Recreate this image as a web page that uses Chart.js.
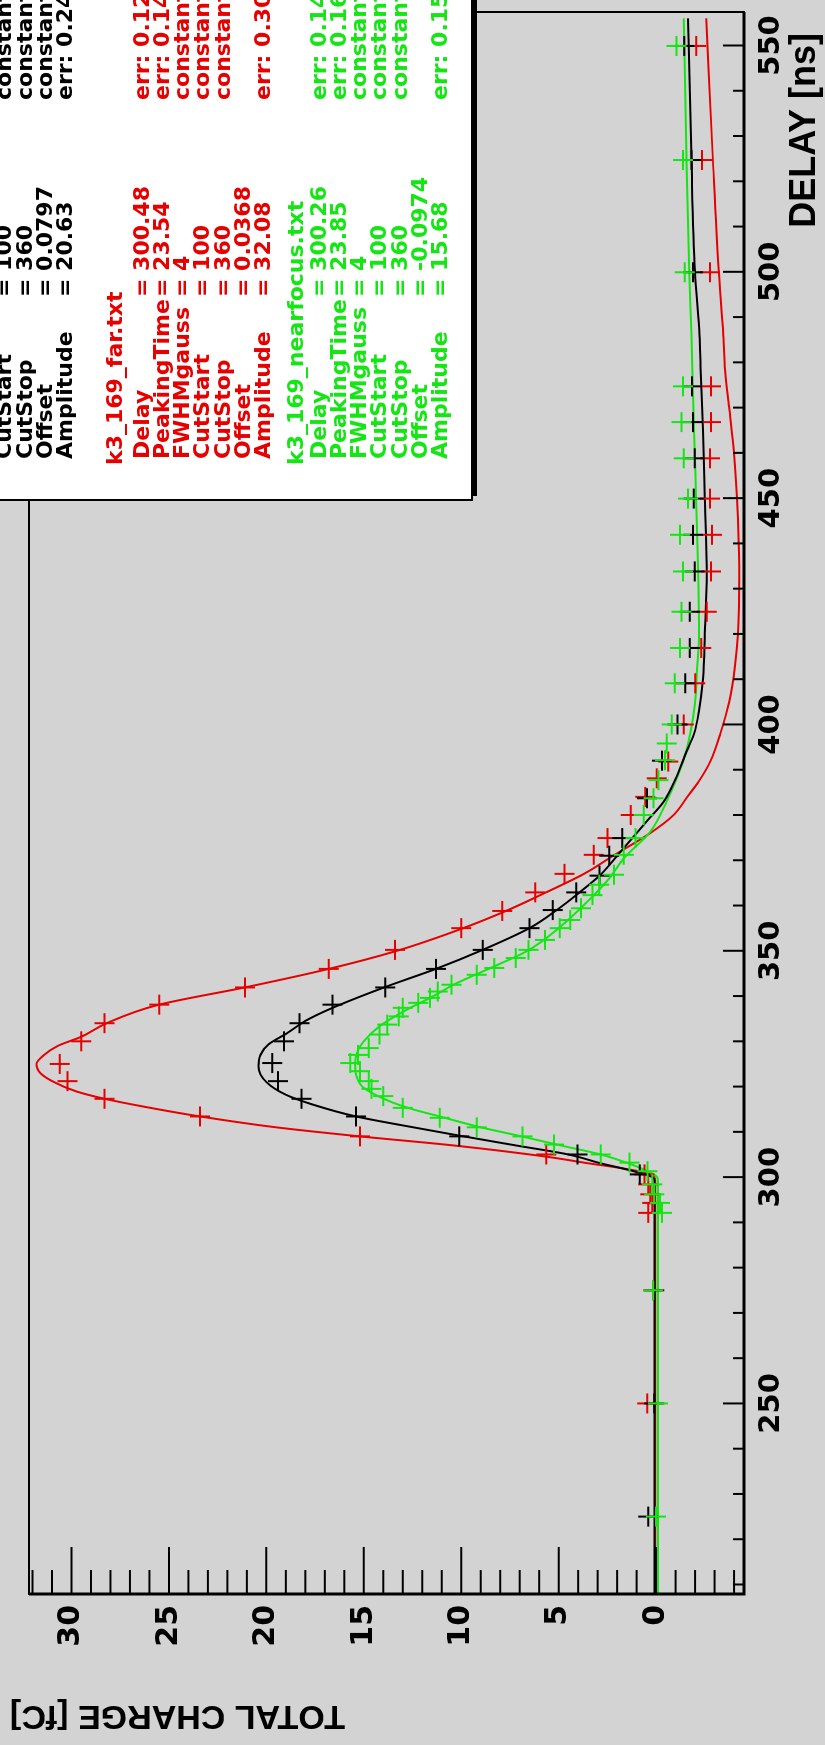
<!DOCTYPE html>
<html lang="en">
<head>
<meta charset="UTF-8">
<title>Total charge vs delay</title>
<script src="https://cdn.jsdelivr.net/npm/chart.js"></script>
<style>
  html, body { margin: 0; padding: 0; background: #d3d3d3; overflow: hidden; }
  body { width: 825px; height: 1745px; position: relative; }
  /* the plot is drawn landscape and turned a quarter turn */
  #wrap {
    position: absolute; left: 0; top: 0;
    width: 1745px; height: 825px;
    transform-origin: 0 0;
    transform: translate(0, 1745px) rotate(-90deg);
  }
</style>
</head>
<body>
<div id="wrap"><canvas id="grafico" width="1745" height="825"></canvas></div>
<script>
// axis labels
const delayTicks = [250, 300, 350, 400, 450, 500, 550];
const chargeTicks = [0, 5, 10, 15, 20, 25, 30];

// measured points, black run
const blackDelay = [225, 250, 275, 300.6, 305, 309, 313.4, 317.3, 321.2, 325.2, 330, 334, 338.1, 341.9, 346, 350.2, 355, 359, 362.9, 366.6, 371, 374.9, 383.7, 392, 400, 409.1, 416.9, 424.9, 433.8, 441.9, 449.9, 458.8, 466.8, 474.7, 499.9, 524.7, 549.9];
const blackCharge = [0.4, 0.1, 0.1, 0.84, 4.04, 10.1, 15.4, 18.2, 19.4, 19.7, 19.1, 18.3, 16.6, 13.9, 11.3, 8.9, 6.5, 5.3, 4.1, 2.9, 2.4, 1.74, 0.47, -0.3, -1.1, -1.5, -1.72, -1.72, -1.98, -1.89, -1.93, -1.98, -1.89, -1.84, -1.89, -1.81, -1.45];

// measured points, k3_169_far.txt
const farDelay = [250, 275, 292.1, 294.3, 296.2, 298.4, 300.6, 305, 309, 313.4, 317.3, 321.2, 325, 330, 334, 338.1, 341.9, 346, 350.2, 355, 358.8, 362.9, 367, 371.2, 374.9, 380, 384, 388.1, 391.8, 400, 409.1, 416.9, 424.9, 433.8, 441.9, 449.9, 458.8, 466.8, 474.7, 499.9, 524.7, 549.9];
const farCharge = [0.45, 0.15, 0.4, 0.2, 0.3, 0.4, 0.6, 5.64, 15.2, 23.4, 28.3, 30.2, 30.6, 29.5, 28.3, 25.5, 21.1, 16.8, 13.4, 10.0, 7.9, 6.2, 4.7, 3.2, 2.5, 1.3, 0.56, -0.03, -0.62, -1.42, -2.01, -2.32, -2.6, -2.82, -2.87, -2.77, -2.77, -2.82, -2.82, -2.77, -2.35, -2.06];

// measured points, k3_169_nearfocus.txt
const nearDelay = [225, 250, 275, 292.1, 294.3, 296.2, 298.4, 301.3, 303.2, 305, 307.2, 309, 311, 313.1, 315.3, 317.9, 319.5, 321.2, 323.4, 325.2, 327, 328.5, 331.5, 333.7, 335.5, 337.4, 338.5, 339.6, 341, 342.5, 344.7, 346.2, 348.4, 350.2, 352.4, 355, 356.8, 359.4, 362.3, 364.6, 366.8, 371.2, 374.9, 380, 383.7, 387.7, 392.1, 395.8, 400, 409.1, 416.9, 424.9, 433.8, 441.9, 449.9, 458.8, 466.8, 474.7, 499.9, 524.7, 549.9];
const nearCharge = [0.0, -0.1, 0.15, -0.3, -0.2, 0.1, 0.2, 0.44, 1.37, 2.84, 5.24, 6.85, 9.2, 11.1, 13.0, 14.0, 14.6, 14.75, 15.2, 15.7, 15.3, 14.75, 14.2, 13.8, 13.2, 13.0, 12.2, 11.6, 11.2, 10.5, 9.2, 8.3, 7.2, 6.55, 5.7, 4.95, 4.4, 3.85, 3.26, 2.92, 2.16, 1.66, 1.06, 0.64, 0.14, -0.12, -0.46, -0.54, -0.8, -0.96, -1.22, -1.3, -1.38, -1.22, -1.64, -1.42, -1.3, -1.38, -1.47, -1.38, -1.05];

// fitted shapes
const fitBlackDelay = [208, 299, 300, 301, 302, 303, 305, 307, 309.4, 311.5, 313.4, 316, 318.2, 321, 324.5, 327, 329.3, 331.9, 334.5, 337.4, 342, 346, 350.2, 355, 359, 363, 366.6, 371, 375, 379, 383, 388, 394, 398, 403, 410, 420, 435, 450, 465, 479, 486, 500, 525, 550, 556];
const fitBlackCharge = [0.08, 0.08, 0.2, 0.9, 1.8, 2.8, 4.5, 7.2, 10.4, 13.1, 15.4, 17.6, 19.0, 20.0, 20.4, 20.3, 19.9, 18.9, 18.0, 16.6, 13.9, 11.3, 8.9, 6.5, 5.1, 3.9, 2.9, 2.0, 1.2, 0.4, -0.4, -1.0, -1.56, -1.95, -2.2, -2.4, -2.5, -2.6, -2.5, -2.4, -2.28, -2.23, -2.0, -1.81, -1.67, -1.64];

const fitFarDelay = [208, 299, 300, 301, 302, 303, 304.5, 307, 309, 311, 313.4, 315.5, 317.3, 319, 321, 323, 325, 327, 329, 331, 334, 338, 342, 346, 350, 355, 359, 363, 367, 371, 376, 380, 384, 387.5, 392, 398, 405, 413, 420, 435, 450, 460, 470, 479, 486, 501, 526, 556];
const fitFarCharge = [0.04, 0.04, 0.1, 0.6, 1.8, 3.4, 5.6, 10.4, 15.2, 19.5, 23.4, 26.2, 28.3, 29.8, 30.9, 31.6, 31.8, 31.4, 30.7, 29.5, 28.2, 25.6, 21.0, 16.8, 13.3, 9.9, 7.6, 5.6, 3.7, 2.2, 0.3, -0.9, -1.6, -2.2, -2.8, -3.3, -3.75, -4.05, -4.2, -4.26, -4.15, -4.0, -3.75, -3.52, -3.45, -3.2, -2.9, -2.57];

const fitNearDelay = [208, 299, 300, 301.3, 303, 305, 307, 309, 311, 313.4, 315, 316.8, 319.7, 322, 325, 328, 330, 333.3, 336.5, 340.3, 342.5, 346, 350, 355, 362, 366, 370.4, 376.3, 383, 391.8, 398, 404.3, 412, 420, 435, 450, 465, 479, 486, 500, 525, 556];
const fitNearCharge = [-0.1, -0.1, -0.05, 0.44, 1.4, 2.84, 4.9, 6.9, 9.0, 11.1, 12.5, 13.7, 15.0, 15.35, 15.45, 15.3, 15.0, 14.2, 13.0, 11.3, 10.4, 8.6, 6.6, 5.0, 3.26, 2.4, 1.66, 0.3, -0.54, -1.38, -1.75, -1.98, -2.1, -2.2, -2.15, -2.05, -1.95, -1.86, -1.81, -1.7, -1.56, -1.42];

// fit parameter box
const paramNames = ['Delay', 'PeakingTime', 'FWHMgauss', 'CutStart', 'CutStop', 'Offset', 'Amplitude'];
const blackValues = [null, null, '4', '100', '360', '0.0797', '20.63'];
const blackErrors = [null, null, 'constant', 'constant', 'constant', 'constant', 'err: 0.24'];
const farValues = ['300.48', '23.54', '4', '100', '360', '0.0368', '32.08'];
const farErrors = ['err: 0.12', 'err: 0.14', 'constant', 'constant', 'constant', '', 'err: 0.30'];
const nearValues = ['300.26', '23.85', '4', '100', '360', '-0.0974', '15.68'];
const nearErrors = ['err: 0.14', 'err: 0.16', 'constant', 'constant', 'constant', '', 'err: 0.15'];

const RED = '#e60000';
const GREEN = '#14e614';
const BLACK = '#000000';

function pairs(xs, ys) {
  return xs.map((x, i) => ({ x: x, y: ys[i] }));
}

function pontos(label, xs, ys, cor) {
  return {
    label: label, data: pairs(xs, ys), showLine: false,
    pointStyle: 'cross', pointRadius: 10, pointBorderWidth: 2,
    borderColor: cor, backgroundColor: cor
  };
}

function curva(label, xs, ys, cor) {
  return {
    label: label, data: pairs(xs, ys), showLine: true,
    pointRadius: 0, borderWidth: 2, borderColor: cor,
    cubicInterpolationMode: 'monotone'
  };
}

// ROOT style frame: inward ticks, axis titles, parameter box
const rootFrame = {
  id: 'rootFrame',
  afterDatasetsDraw(chart) {
    const ctx = chart.ctx;
    const a = chart.chartArea;
    const sx = chart.scales.x;
    const sy = chart.scales.y;
    ctx.save();
    ctx.strokeStyle = '#000';

    ctx.lineWidth = 2;
    for (let v = 210; v <= 550; v += 10) {
      const px = sx.getPixelForValue(v);
      const len = v % 50 === 0 ? 21 : 11;
      ctx.beginPath();
      ctx.moveTo(px, a.bottom);
      ctx.lineTo(px, a.bottom - len);
      ctx.stroke();
    }
    for (let v = -4; v <= 32; v += 1) {
      const py = sy.getPixelForValue(v);
      const len = v % 5 === 0 ? 47 : 24;
      ctx.beginPath();
      ctx.moveTo(a.left, py);
      ctx.lineTo(a.left + len, py);
      ctx.stroke();
    }

    ctx.lineWidth = 2;
    ctx.strokeRect(a.left, a.top, a.right - a.left, a.bottom - a.top);
    ctx.lineWidth = 3;
    ctx.beginPath();
    ctx.moveTo(a.left, a.top);
    ctx.lineTo(a.left, a.bottom);
    ctx.lineTo(a.right, a.bottom);
    ctx.stroke();

    ctx.fillStyle = '#000';
    ctx.font = 'bold 36px "Liberation Sans"';
    ctx.textAlign = 'right';
    ctx.textBaseline = 'middle';
    ctx.fillText('DELAY [ns]', 1712, 805);

    ctx.save();
    ctx.translate(30, 10);
    ctx.rotate(-Math.PI / 2);
    ctx.font = 'bold 34px "Liberation Sans"';
    ctx.fillText('TOTAL CHARGE [fC]', 0, 0);
    ctx.restore();
    ctx.restore();
  },
  afterDraw(chart) {
    const ctx = chart.ctx;
    ctx.save();
    ctx.fillStyle = '#fff';
    ctx.fillRect(1245, -10, 520, 482);
    ctx.fillStyle = '#000';
    ctx.fillRect(1249, 472, 520, 5);
    ctx.strokeStyle = '#000';
    ctx.lineWidth = 2;
    ctx.strokeRect(1245, -10, 520, 482);

    ctx.font = 'bold 22px "DejaVu Sans"';
    ctx.textBaseline = 'middle';
    ctx.textAlign = 'left';

    function grupo(cor, titulo, yTitulo, y0, valores, erros) {
      ctx.fillStyle = cor;
      if (titulo) ctx.fillText(titulo, 1280, yTitulo);
      paramNames.forEach((nome, i) => {
        if (valores[i] === null) return;
        const y = y0 + i * 20.2;
        ctx.fillText(nome, 1286, y);
        ctx.fillText('= ' + valores[i], 1448, y);
        ctx.fillText(erros[i], 1645, y);
      });
    }
    grupo(BLACK, null, 0, -55, blackValues, blackErrors);
    grupo(RED, 'k3_169_far.txt', 116, 143, farValues, farErrors);
    grupo(GREEN, 'k3_169_nearfocus.txt', 297, 320, nearValues, nearErrors);
    ctx.restore();
  }
};

const ctxGrafico = document.getElementById('grafico').getContext('2d');
const grafico = new Chart(ctxGrafico, {
  type: 'scatter',
  data: {
    datasets: [
      pontos('k3_169_nearfocus.txt', nearDelay, nearCharge, GREEN),
      pontos('black', blackDelay, blackCharge, BLACK),
      pontos('k3_169_far.txt', farDelay, farCharge, RED),
      curva('fit black', fitBlackDelay, fitBlackCharge, BLACK),
      curva('fit nearfocus', fitNearDelay, fitNearCharge, GREEN),
      curva('fit far', fitFarDelay, fitFarCharge, RED)
    ]
  },
  options: {
    responsive: false,
    animation: false,
    devicePixelRatio: 1,
    layout: { padding: { top: 21, right: 6, left: 0, bottom: 0 } },
    plugins: { legend: { display: false }, tooltip: { enabled: false } },
    scales: {
      x: {
        type: 'linear', min: 207.9, max: 557.4,
        grid: { display: false, drawTicks: false },
        border: { display: false },
        afterBuildTicks: s => { s.ticks = delayTicks.map(v => ({ value: v })); },
        afterFit: s => { s.height = 81; },
        ticks: {
          autoSkip: false, maxRotation: 0, padding: 10, color: '#000',
          font: { family: 'DejaVu Sans', weight: 'bold', size: 29 }
        }
      },
      y: {
        type: 'linear', min: -4.51, max: 32.18,
        grid: { display: false, drawTicks: false },
        border: { display: false },
        afterBuildTicks: s => { s.ticks = chargeTicks.map(v => ({ value: v })); },
        afterFit: s => { s.width = 151; },
        ticks: {
          autoSkip: false, padding: 11, color: '#000',
          font: { family: 'DejaVu Sans', weight: 'bold', size: 30 }
        }
      }
    }
  },
  plugins: [rootFrame]
});
</script>
</body>
</html>
